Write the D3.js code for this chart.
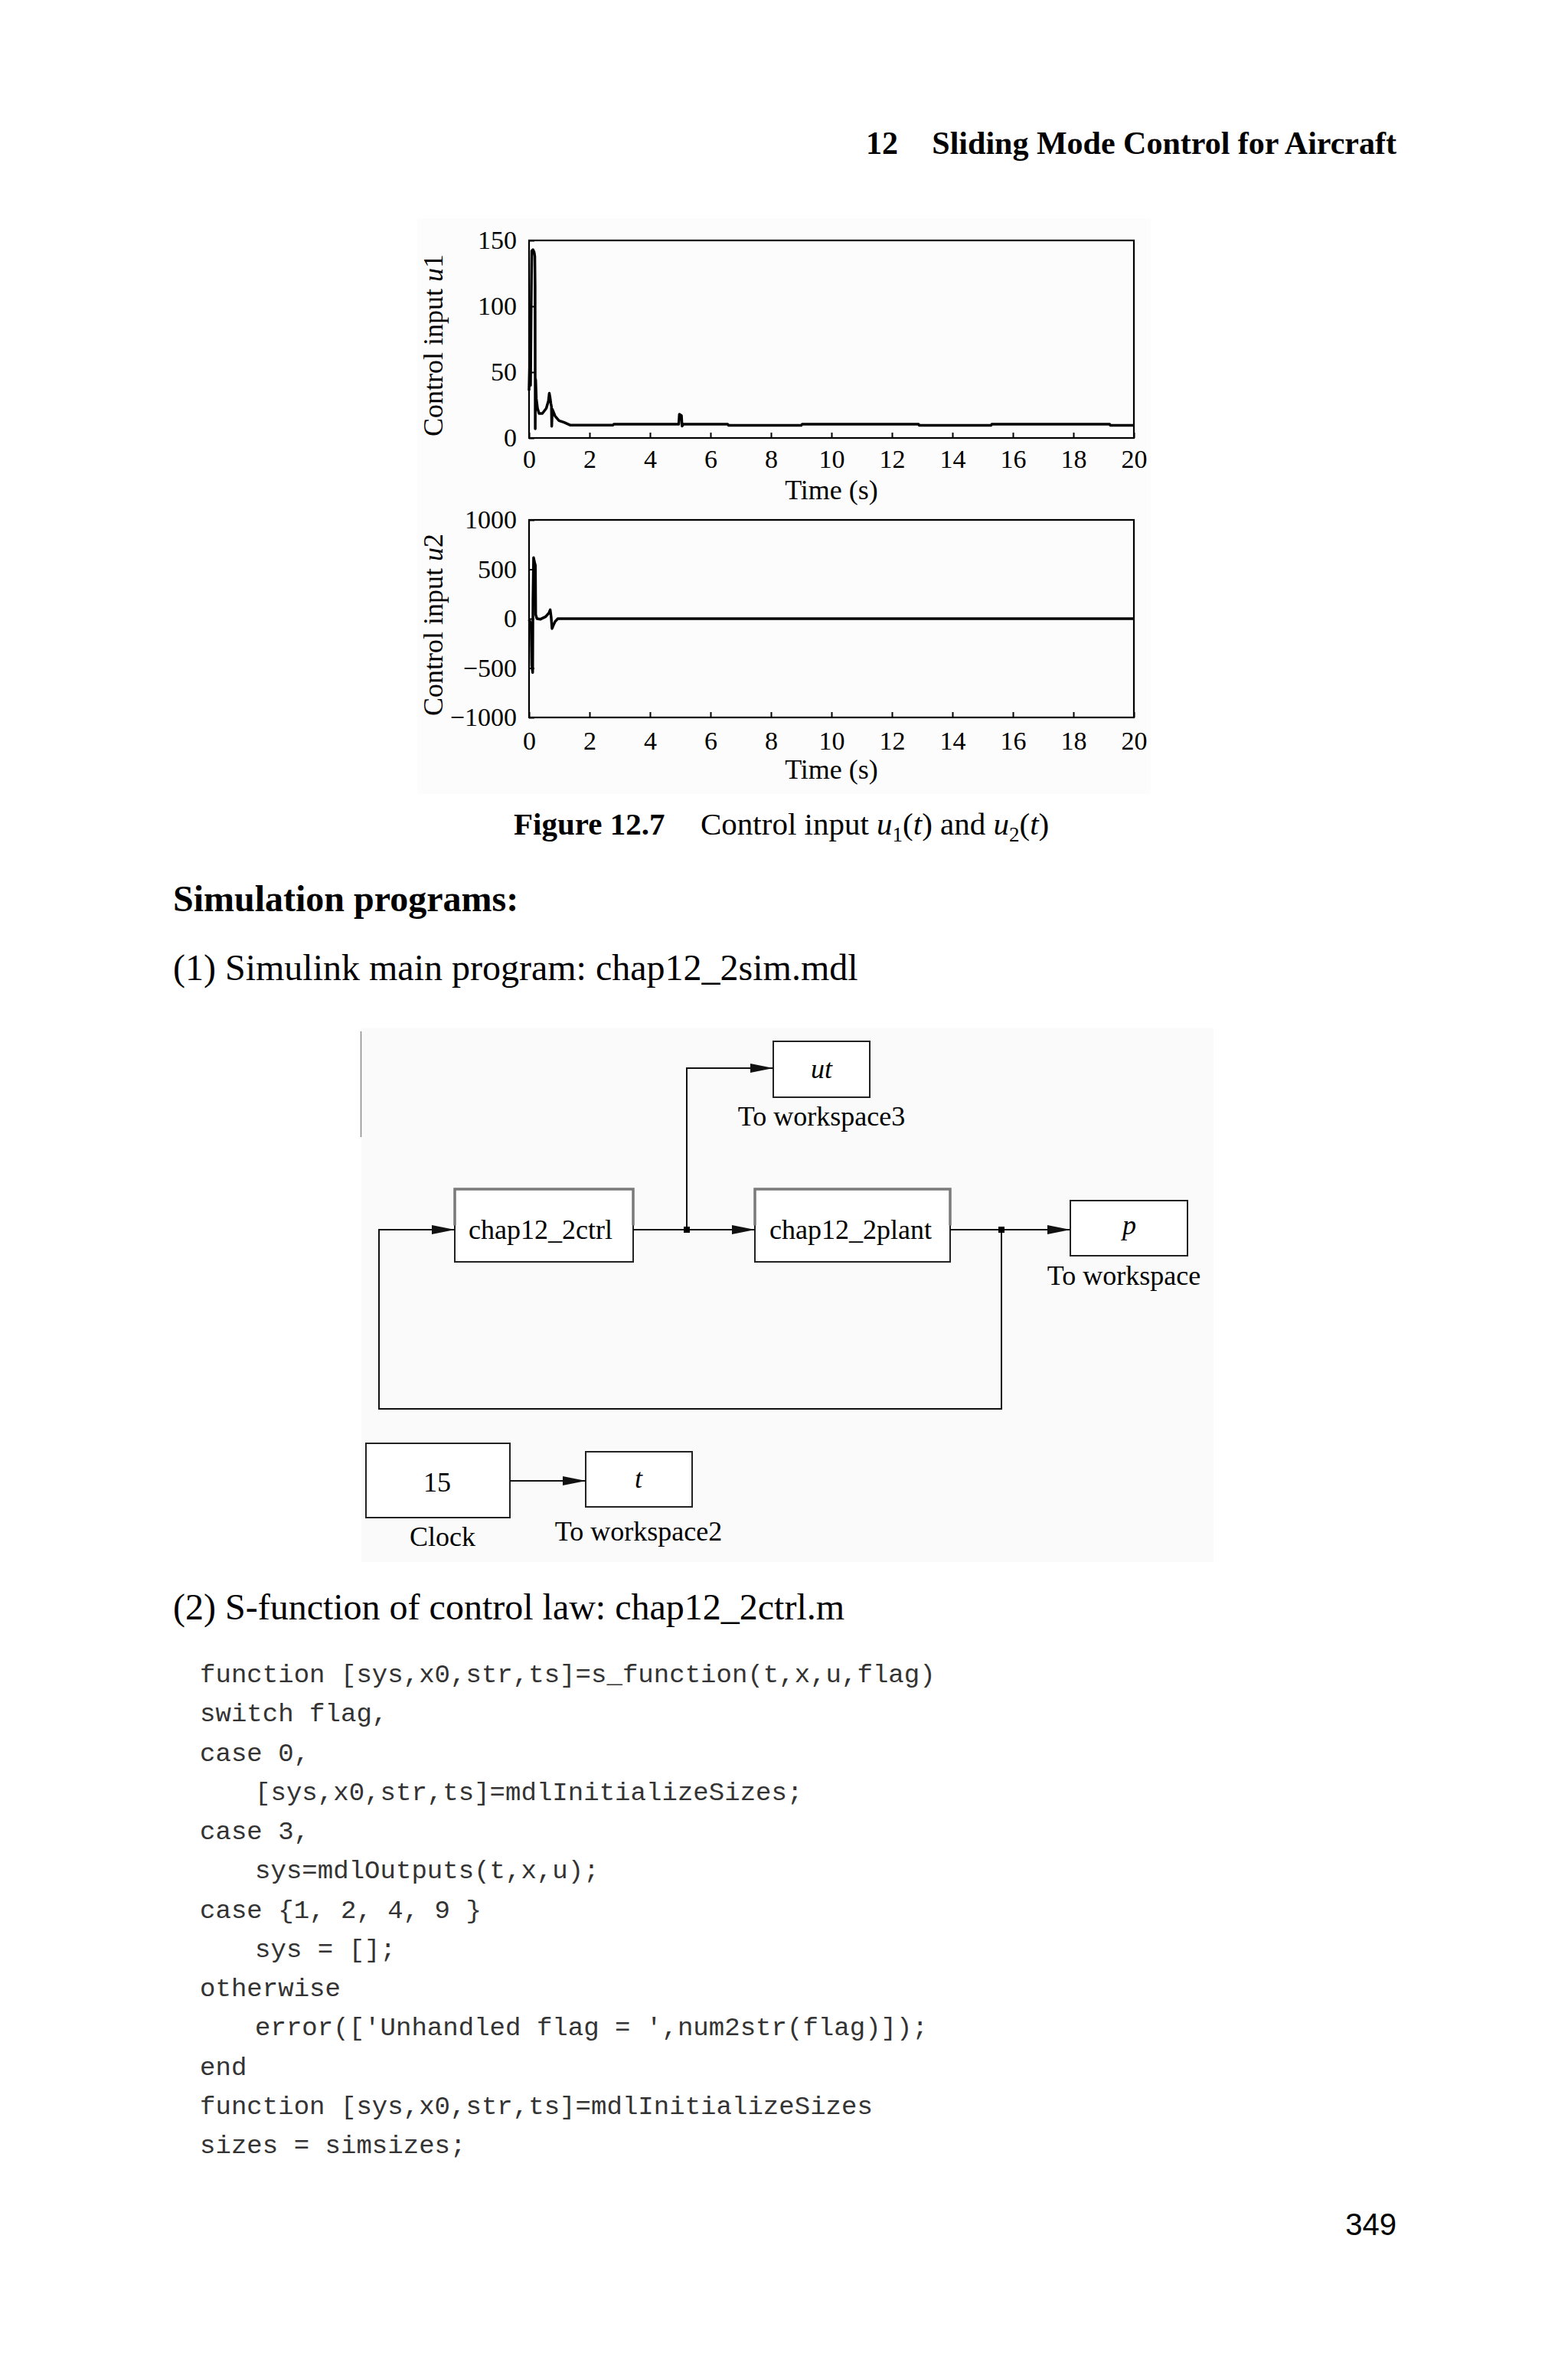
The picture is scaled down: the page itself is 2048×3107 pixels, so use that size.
<!DOCTYPE html>
<html>
<head>
<meta charset="utf-8">
<script src="https://cdn.jsdelivr.net/npm/d3@7"></script>
<style>
  body { margin: 0; background: #fff; }
  svg text { font-family: "Liberation Serif", "Times New Roman", serif; fill: #000; }
</style>
</head>
<body>
<div id="container"></div>
<script>
// ---- data ----
var timeTicks = [0, 2, 4, 6, 8, 10, 12, 14, 16, 18, 20];
var u1Ticks = [0, 50, 100, 150];
var u2Ticks = [-1000, -500, 0, 500, 1000];

var u1Time  = [0, 0.02, 0.03, 0.05, 0.07, 0.09, 0.13, 0.17, 0.19, 0.2, 0.205, 0.21, 0.22, 0.24, 0.28, 0.33, 0.44, 0.57, 0.64, 0.67, 0.7, 0.72, 0.74, 0.75, 0.77, 0.86, 0.99, 1.16, 1.37, 2.77, 2.8, 4.95, 4.97, 5.0, 5.04, 5.06, 5.1, 6.57, 6.6, 9.0, 9.03, 12.88, 12.9, 15.28, 15.3, 19.2, 19.22, 20];
var u1Value = [36, 55, 70, 40, 100, 142, 143, 141, 138, 115, 7, 45, 44, 30, 22.5, 18.6, 18.6, 22.5, 28, 34, 30, 26.4, 24, 8.9, 21.8, 16.7, 13.2, 11.8, 9.7, 9.7, 10.4, 10.4, 18, 17.5, 17, 9, 10.4, 10.4, 9.6, 9.6, 10.4, 10.4, 9.6, 9.6, 10.4, 10.4, 9.6, 9.6];

var u2Time  = [0, 0.04, 0.07, 0.09, 0.12, 0.13, 0.15, 0.19, 0.21, 0.22, 0.26, 0.38, 0.55, 0.66, 0.70, 0.73, 0.76, 0.8, 0.86, 0.95, 20];
var u2Value = [-10, -35, -90, -470, -545, 200, 618, 560, 540, 40, 0, -5, 20, 60, 90, 20, -100, -70, -30, 0, 0];

var codeLines = [
  [0, "function [sys,x0,str,ts]=s_function(t,x,u,flag)"],
  [0, "switch flag,"],
  [0, "case 0,"],
  [1, "[sys,x0,str,ts]=mdlInitializeSizes;"],
  [0, "case 3,"],
  [1, "sys=mdlOutputs(t,x,u);"],
  [0, "case {1, 2, 4, 9 }"],
  [1, "sys = [];"],
  [0, "otherwise"],
  [1, "error(['Unhandled flag = ',num2str(flag)]);"],
  [0, "end"],
  [0, "function [sys,x0,str,ts]=mdlInitializeSizes"],
  [0, "sizes = simsizes;"]
];

var width = 2048, height = 3107;

var svg = d3.select("div#container")
    .append("svg")
    .attr("width", width)
    .attr("height", height);

svg.append("rect").attr("width", width).attr("height", height).attr("fill", "#fff");

// running header
svg.append("text").attr("x", 1131).attr("y", 201)
    .style("font-size", "42px").style("font-weight", "bold").text("12");
svg.append("text").attr("x", 1824).attr("y", 201).attr("text-anchor", "end")
    .style("font-size", "42px").style("font-weight", "bold").text("Sliding Mode Control for Aircraft");

// faint scan background of the figure
svg.append("rect").attr("x", 545).attr("y", 285).attr("width", 958).attr("height", 752).attr("fill", "#fcfcfc");

// ---- the two plots ----
var x = d3.scaleLinear().domain([0, 20]).range([691, 1481]);

function drawPlot(top, yDomain, yTicks, xs, ys, labelIdx, xPad) {
    var y = d3.scaleLinear().domain(yDomain).range([top + 258, top]);
    var g = svg.append("g");

    g.append("g")
        .attr("transform", "translate(0," + (top + 258) + ")")
        .call(d3.axisBottom(x).tickValues(timeTicks).tickFormat(d3.format("d"))
            .tickSizeInner(-7).tickSizeOuter(0).tickPadding(xPad))
        .call(function(a) {
            a.select(".domain").remove();
            a.selectAll("line").attr("stroke", "#000").attr("stroke-width", 2);
            a.selectAll("text").style("font-size", "34px")
                .style("font-family", "Liberation Serif");
        });

    g.append("g")
        .attr("transform", "translate(691,0)")
        .call(d3.axisLeft(y).tickValues(yTicks).tickFormat(d3.format("d"))
            .tickSizeInner(-7).tickSizeOuter(0).tickPadding(16))
        .call(function(a) {
            a.select(".domain").remove();
            a.selectAll("line").attr("stroke", "#000").attr("stroke-width", 2);
            a.selectAll("text").style("font-size", "34px")
                .style("font-family", "Liberation Serif");
        });

    g.append("rect")
        .attr("x", x(0)).attr("y", top)
        .attr("width", x(20) - x(0)).attr("height", 258)
        .attr("fill", "none").attr("stroke", "#000").attr("stroke-width", 2.2);

    var line = d3.line()
        .x(function(d, i) { return x(xs[i]); })
        .y(function(d) { return y(d); });

    g.append("path")
        .datum(ys)
        .attr("d", line)
        .attr("fill", "none")
        .attr("stroke", "#000")
        .attr("stroke-width", 3.5)
        .attr("stroke-linejoin", "round");

    g.append("text")
        .attr("x", x(10)).attr("y", top + 338)
        .attr("text-anchor", "middle")
        .style("font-size", "36px")
        .text("Time (s)");

    var lab = g.append("text")
        .attr("transform", "translate(578," + (top + 137) + ") rotate(-90)")
        .attr("text-anchor", "middle")
        .style("font-size", "36px");
    lab.append("tspan").text("Control input ");
    lab.append("tspan").style("font-style", "italic").text("u");
    lab.append("tspan").text(labelIdx);
}

drawPlot(314, [0, 150], u1Ticks, u1Time, u1Value, "1", 15);
drawPlot(679, [-1000, 1000], u2Ticks, u2Time, u2Value, "2", 18);

// caption
svg.append("text").attr("x", 671).attr("y", 1090)
    .style("font-size", "41px").style("font-weight", "bold").text("Figure 12.7");
var cap = svg.append("text").attr("x", 915).attr("y", 1090).style("font-size", "41px");
cap.append("tspan").text("Control input ");
cap.append("tspan").style("font-style", "italic").text("u");
cap.append("tspan").attr("dy", 9).style("font-size", "27px").text("1");
cap.append("tspan").attr("dy", -9).text("(");
cap.append("tspan").style("font-style", "italic").text("t");
cap.append("tspan").text(") and ");
cap.append("tspan").style("font-style", "italic").text("u");
cap.append("tspan").attr("dy", 9).style("font-size", "27px").text("2");
cap.append("tspan").attr("dy", -9).text("(");
cap.append("tspan").style("font-style", "italic").text("t");
cap.append("tspan").text(")");

// body text
svg.append("text").attr("x", 226).attr("y", 1190)
    .style("font-size", "48px").style("font-weight", "bold").text("Simulation programs:");
svg.append("text").attr("x", 226).attr("y", 1280)
    .style("font-size", "48px").text("(1) Simulink main program: chap12_2sim.mdl");

// ---- Simulink diagram ----
svg.append("rect").attr("x", 472).attr("y", 1343).attr("width", 1113).attr("height", 697).attr("fill", "#fafafa");
svg.append("line").attr("x1", 471.5).attr("x2", 471.5).attr("y1", 1347).attr("y2", 1485)
    .attr("stroke", "#8a8a8a").attr("stroke-width", 1.5);

var defs = svg.append("defs");
defs.append("marker")
    .attr("id", "arrow")
    .attr("viewBox", "0 0 30 14")
    .attr("refX", 30).attr("refY", 7)
    .attr("markerWidth", 30).attr("markerHeight", 14)
    .attr("markerUnits", "userSpaceOnUse")
    .attr("orient", "auto")
    .append("path").attr("d", "M0,1 L30,7 L0,13 Z").attr("fill", "#111");

var dg = svg.append("g");

function block(x0, y0, x1, y1, shadow) {
    dg.append("rect").attr("x", x0).attr("y", y0).attr("width", x1 - x0).attr("height", y1 - y0)
        .attr("fill", "#fff").attr("stroke", "#222").attr("stroke-width", 2);
    if (shadow) {
        var mid = (y0 + y1) / 2;
        dg.append("path")
            .attr("d", "M" + x0 + "," + mid + " L" + x0 + "," + y0 + " L" + x1 + "," + y0 + " L" + x1 + "," + mid)
            .attr("fill", "none").attr("stroke", "#7a7a7a").attr("stroke-width", 3.5);
    }
}

function wire(points, arrow) {
    var p = dg.append("path")
        .attr("d", d3.line()(points))
        .attr("fill", "none").attr("stroke", "#111").attr("stroke-width", 2);
    if (arrow) p.attr("marker-end", "url(#arrow)");
}

function label(x0, y0, txt, italic) {
    var t = dg.append("text").attr("x", x0).attr("y", y0).attr("text-anchor", "middle")
        .style("font-size", "36px").text(txt);
    if (italic) t.style("font-style", "italic");
}

block(594, 1553, 827, 1648, true);
block(986, 1553, 1241, 1648, true);
block(1010, 1360, 1136, 1433, false);
block(1398, 1568, 1551, 1640, false);
block(478, 1885, 666, 1982, false);
block(765, 1896, 904, 1968, false);

var yMain = 1606;
wire([[827, yMain], [986, yMain]], true);
wire([[897, yMain], [897, 1395], [1010, 1395]], true);
wire([[1241, yMain], [1398, yMain]], true);
wire([[1308, yMain], [1308, 1840], [495, 1840], [495, yMain], [594, yMain]], true);
wire([[666, 1934], [765, 1934]], true);

dg.append("rect").attr("x", 893).attr("y", yMain - 4).attr("width", 8).attr("height", 8).attr("fill", "#000");
dg.append("rect").attr("x", 1304).attr("y", yMain - 4).attr("width", 8).attr("height", 8).attr("fill", "#000");

label(706, 1618, "chap12_2ctrl");
label(1111, 1618, "chap12_2plant");
label(1073, 1408, "ut", true);
label(1475, 1612, "p", true);
label(571, 1948, "15");
label(834, 1943, "t", true);
label(1073, 1470, "To workspace3");
label(1468, 1678, "To workspace");
label(578, 2019, "Clock");
label(834, 2012, "To workspace2");

svg.append("text").attr("x", 226).attr("y", 2115)
    .style("font-size", "48px").text("(2) S-function of control law: chap12_2ctrl.m");

// code listing, each glyph placed on the printed listing's character pitch
var pitch = 20.44;
svg.append("g").selectAll("text")
    .data(codeLines)
    .enter().append("text")
    .attr("x", function(d) {
        var x0 = d[0] ? 333 : 261;
        return d3.range(d[1].length).map(function(i) { return (x0 + i * pitch).toFixed(2); }).join(" ");
    })
    .attr("y", function(d, i) { return 2197 + i * 51.25; })
    .style("font-family", "'Liberation Mono', 'Courier New', monospace")
    .style("font-size", "34px")
    .style("fill", "#333")
    .style("white-space", "pre")
    .text(function(d) { return d[1]; });

// page number
svg.append("text").attr("x", 1824).attr("y", 2919).attr("text-anchor", "end")
    .style("font-family", "'Liberation Sans', Arial, sans-serif")
    .style("font-size", "40px").text("349");
</script>
</body>
</html>
